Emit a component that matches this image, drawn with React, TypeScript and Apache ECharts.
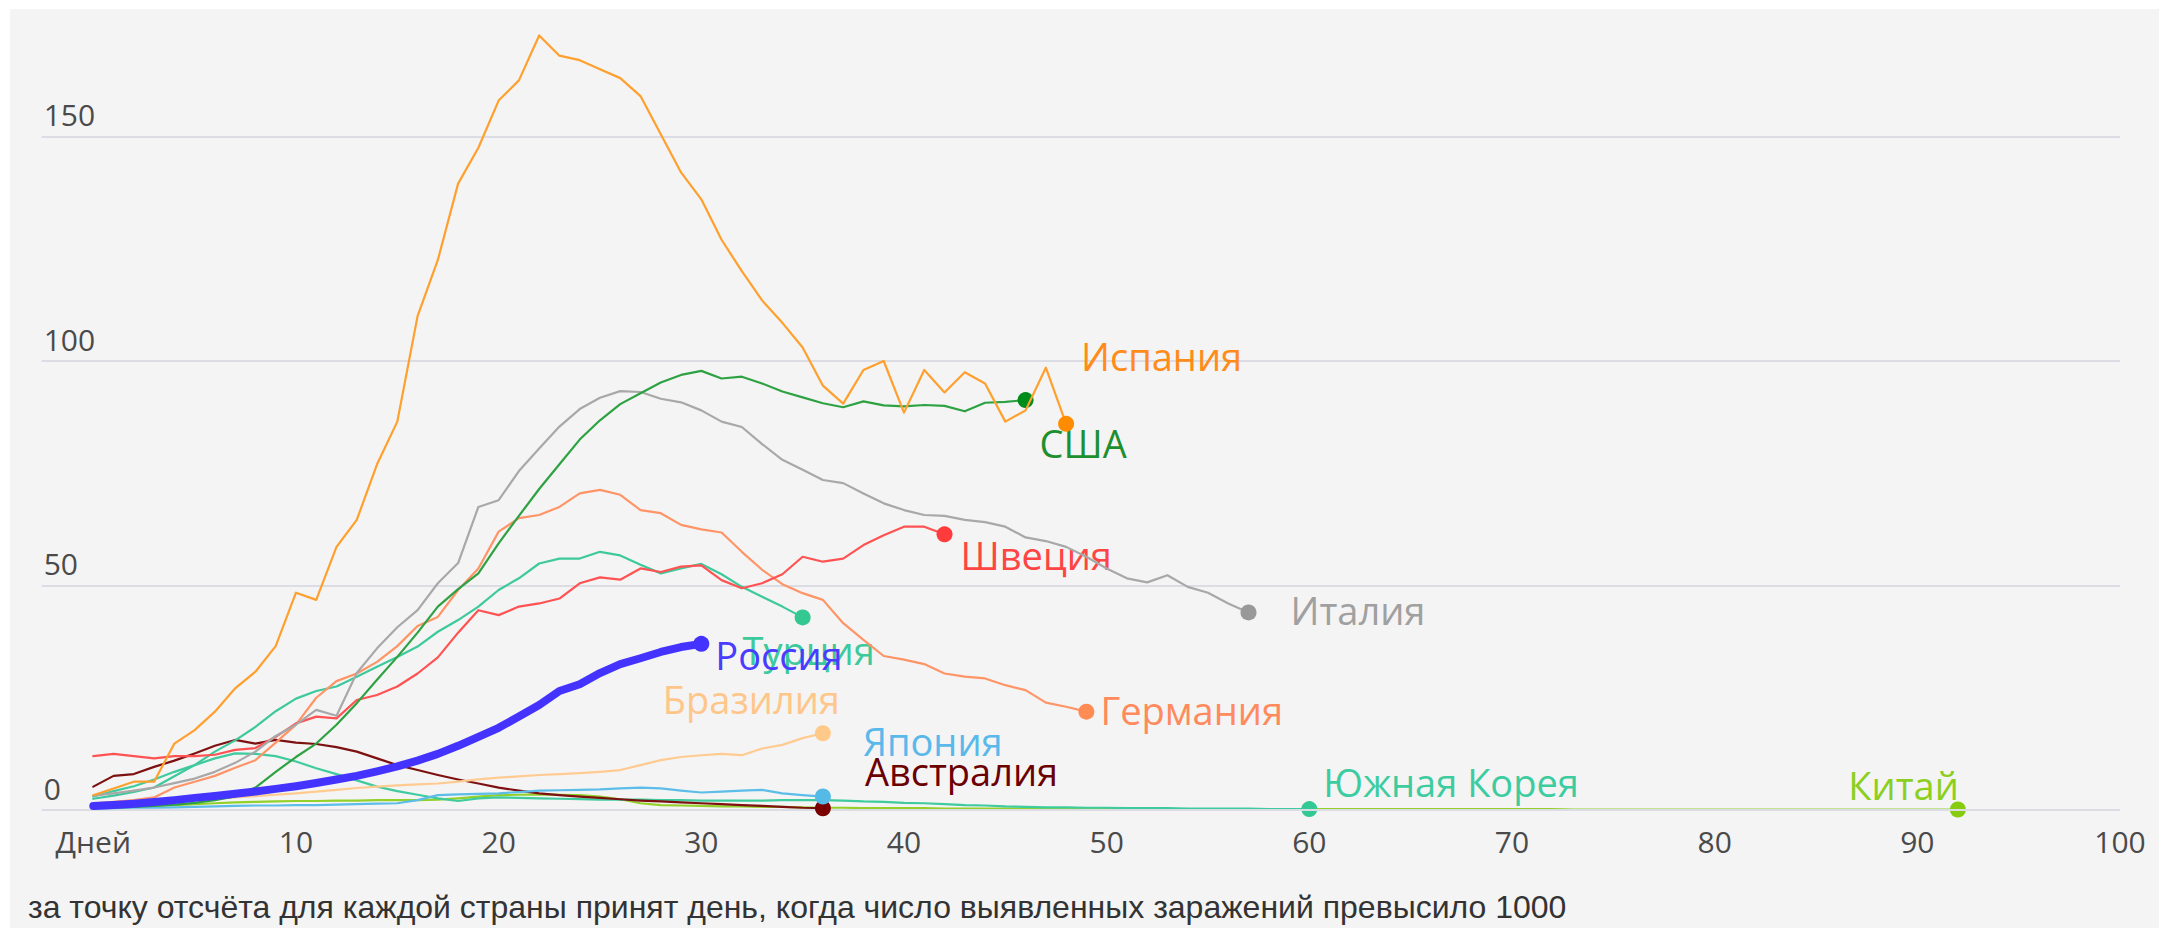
import React, { useEffect, useRef } from "react";
import * as echarts from "echarts";

// ---- tick labels ----
const X_TICKS = [0, 10, 20, 30, 40, 50, 60, 70, 80, 90, 100];
const X_ZERO_LABEL = "Дней";
const Y_TICKS = [0, 50, 100, 150];
const CAPTION =
  "за точку отсчёта для каждой страны принят день, когда число выявленных заражений превысило 1000";

// ---- series values (index = day) ----
const spain = [3.3, 4.8, 6.3, 6.3, 14.8, 17.8, 21.9, 27.1, 30.8, 36.5, 48.4, 46.8, 58.6, 64.6, 77, 86.5, 110, 122.5, 139.5, 147.5, 158, 162.5, 172.5, 168, 167, 165, 163, 159, 150.5, 142, 136, 127, 120, 113.5, 108.5, 103, 94.5, 90.5, 98, 100, 88.5, 98, 93, 97.5, 95, 86.5, 89, 98.5, 86];
const usa = [0.4, 0.5, 0.7, 0.9, 1.2, 1.6, 2.2, 3, 5, 8.5, 11.8, 14.8, 19, 23.8, 29, 34.1, 39.5, 45.3, 49.2, 52.7, 59.4, 65.5, 71.5, 77, 82.5, 86.8, 90.4, 92.8, 95.2, 96.9, 97.8, 96.1, 96.5, 95, 93.2, 91.9, 90.6, 89.7, 91, 90.1, 89.9, 90.2, 90, 88.8, 90.7, 90.9, 91.3];
const italy = [3.2, 3.7, 4.3, 5, 6, 7, 8.5, 10.5, 13, 16.5, 19, 22.3, 21, 30.5, 36, 40.7, 44.5, 50.5, 55, 67.5, 69, 75.5, 80.5, 85.4, 89.3, 91.8, 93.3, 93.1, 91.6, 90.8, 89, 86.5, 85.3, 81.5, 78, 75.8, 73.5, 72.8, 70.5, 68.3, 66.8, 65.7, 65.5, 64.6, 64.1, 63.1, 60.7, 59.9, 58.6, 56.4, 53.8, 51.6, 50.7, 52.3, 49.7, 48.4, 46, 44];
const sweden = [12, 12.5, 12, 11.5, 12, 12, 12.3, 13.4, 13.8, 16.3, 19.3, 20.8, 20.4, 24.5, 25.6, 27.5, 30.4, 34, 39.5, 44.5, 43.4, 45.3, 46, 47.1, 50.5, 51.8, 51.3, 53.8, 53, 54.2, 54.5, 51.2, 49.4, 50.5, 52.5, 56.4, 55.3, 56, 59, 61.2, 63.1, 63.1, 61.4];
const germany = [1.5, 1.8, 2.2, 2.8, 5, 6.3, 7.6, 9.4, 11.1, 15, 19, 25, 28.7, 30.4, 33, 36.5, 41, 43, 49, 53.8, 62, 65, 65.7, 67.5, 70.5, 71.3, 70.2, 66.8, 66.1, 63.5, 62.5, 61.8, 57.5, 53.5, 50.3, 48.3, 46.8, 41.6, 37.9, 34.3, 33.5, 32.5, 30.4, 29.7, 29.3, 27.8, 26.7, 23.9, 23, 21.9];
const turkey = [2.5, 3.2, 4, 5, 7.5, 10, 13, 15.5, 18.5, 22, 24.8, 26.5, 27.5, 29.7, 31.9, 34.1, 36.4, 39.7, 42.3, 45.3, 49, 51.6, 54.9, 56, 56, 57.5, 56.7, 54.6, 52.7, 53.8, 54.8, 52.5, 49.7, 47.5, 45.3, 42.9];
const russia = [0.9, 1.1, 1.4, 1.8, 2.2, 2.7, 3.1, 3.6, 4.1, 4.7, 5.3, 6, 6.8, 7.6, 8.6, 9.7, 11, 12.5, 14.3, 16.3, 18.3, 20.8, 23.4, 26.5, 28, 30.5, 32.5, 33.8, 35.2, 36.3, 37];
const brazil = [1, 1.2, 1.5, 1.7, 2, 2.2, 2.5, 2.8, 3.1, 3.4, 3.7, 4.1, 4.5, 4.9, 5.2, 5.5, 5.7, 5.9, 6.3, 6.8, 7.2, 7.5, 7.8, 8, 8.2, 8.5, 8.9, 10, 11.1, 11.8, 12.2, 12.5, 12.2, 13.7, 14.5, 16, 17.1];
const japan = [0.3, 0.4, 0.5, 0.5, 0.6, 0.7, 0.8, 0.9, 1, 1, 1.1, 1.1, 1.2, 1.3, 1.4, 1.5, 2.2, 3.3, 3.5, 3.6, 3.7, 4, 4.3, 4.4, 4.5, 4.6, 4.8, 5, 4.8, 4.3, 3.9, 4.1, 4.3, 4.5, 3.7, 3.3, 3];
const australia = [5.2, 7.6, 8, 9.6, 11, 12.6, 14.3, 15.6, 14.8, 15.6, 15, 14.7, 14, 13, 11.5, 10, 8.9, 7.8, 6.8, 5.9, 5, 4.3, 3.7, 3.3, 3, 2.7, 2.4, 2.1, 1.9, 1.7, 1.5, 1.3, 1.1, 0.9, 0.7, 0.5, 0.4];
const southKorea = [3, 4.2, 5.3, 6.8, 8.5, 10, 11.5, 12.6, 12.5, 12, 10.8, 9.3, 8, 6.6, 5.2, 4.2, 3.4, 2.6, 2, 2.6, 2.8, 2.7, 2.6, 2.5, 2.4, 2.3, 2.3, 2.3, 2.2, 2.2, 2.1, 2.1, 2.1, 2.1, 2.2, 2.2, 2.2, 2.1, 1.9, 1.8, 1.6, 1.5, 1.3, 1.1, 1, 0.8, 0.7, 0.6, 0.6, 0.5, 0.5, 0.4, 0.4, 0.4, 0.3, 0.3, 0.3, 0.3, 0.2, 0.2, 0.2];
const china = [0.3, 0.5, 0.7, 0.9, 1.1, 1.3, 1.5, 1.7, 1.8, 1.9, 2, 2, 2.1, 2.1, 2.2, 2.2, 2.2, 2.3, 2.6, 3, 3.3, 3.4, 3.5, 3.4, 3.3, 3, 2.4, 1.5, 1.1, 1, 0.9, 0.8, 0.8, 0.7, 0.7, 0.6, 0.5, 0.5, 0.4, 0.4, 0.4, 0.4, 0.3, 0.3, 0.3, 0.3, 0.3, 0.3, 0.3, 0.3, 0.3, 0.3, 0.3, 0.2, 0.2, 0.2, 0.2, 0.2, 0.2, 0.2, 0.2, 0.2, 0.2, 0.2, 0.2, 0.2, 0.2, 0.2, 0.2, 0.2, 0.2, 0.2, 0.2, 0.1, 0.1, 0.1, 0.1, 0.1, 0.1, 0.1, 0.1, 0.1, 0.1, 0.1, 0.1, 0.1, 0.1, 0.1, 0.1, 0.1, 0.1, 0.1, 0.1];

// ---- styling (separate from data) ----
type Style = {
  name: string;
  values: number[];
  line: string;
  dot: string;
  text: string;
  width: number;
  align: "left" | "right" | "center";
  dx: number;
  dy: number;
};

const COUNTRIES: Style[] = [
  { name: "Китай", values: china, line: "#93d12a", dot: "#88cc11", text: "#8ccf1f", width: 2.2, align: "right", dx: 1, dy: -25 },
  { name: "Южная Корея", values: southKorea, line: "#3fcb9e", dot: "#33c994", text: "#3ccca0", width: 2.2, align: "left", dx: 14, dy: -27 },
  { name: "Австралия", values: australia, line: "#7d1010", dot: "#7a0000", text: "#6b0000", width: 2.2, align: "left", dx: 42, dy: -37 },
  { name: "Япония", values: japan, line: "#5cbde9", dot: "#55bbe6", text: "#5ab9ea", width: 2.2, align: "left", dx: 40, dy: -56 },
  { name: "Бразилия", values: brazil, line: "#ffcb90", dot: "#ffc98a", text: "#ffc68a", width: 2.2, align: "right", dx: 17, dy: -34 },
  { name: "Турция", values: turkey, line: "#3ec99c", dot: "#33c792", text: "#3cc99b", width: 2.2, align: "center", dx: 6, dy: 33 },
  { name: "Германия", values: germany, line: "#ff9466", dot: "#ff8c55", text: "#ff8a5c", width: 2.2, align: "left", dx: 14, dy: -2 },
  { name: "Швеция", values: sweden, line: "#ff5252", dot: "#ff3b3b", text: "#ff4444", width: 2.2, align: "left", dx: 16, dy: 21 },
  { name: "Италия", values: italy, line: "#a8a8a8", dot: "#999999", text: "#a0a0a0", width: 2.2, align: "left", dx: 42, dy: -2 },
  { name: "США", values: usa, line: "#2ea243", dot: "#008c1a", text: "#1e8f2e", width: 2.2, align: "left", dx: 14, dy: 43 },
  { name: "Испания", values: spain, line: "#ffa02e", dot: "#ff8c00", text: "#ff8c1a", width: 2.2, align: "left", dx: 15, dy: -68 },
  { name: "Россия", values: russia, line: "#4433ff", dot: "#4433ff", text: "#4a3cff", width: 8, align: "left", dx: 14, dy: 11 },
];

const LABEL_FONT = "Open Sans";

export default function App() {
  const ref = useRef<HTMLDivElement>(null);

  useEffect(() => {
    document.body.style.margin = "0";
    if (!ref.current) return;
    const chart = echarts.init(ref.current, undefined, { renderer: "svg" });

    const series: any[] = COUNTRIES.map((c, si) => ({
      type: "line",
      name: c.name,
      z: 3 + si,
      symbol: "none",
      showSymbol: true,
      silent: true,
      clip: false,
      lineStyle: { color: c.line, width: c.width, cap: "round", join: "round" },
      itemStyle: { color: c.line },
      emphasis: { disabled: true },
      data: c.values.map((v, i) =>
        i === c.values.length - 1
          ? {
              value: [i, v],
              symbol: "circle",
              symbolSize: 16,
              itemStyle: { color: c.dot },
              label: {
                show: true,
                formatter: c.name,
                position: "inside",
                align: c.align,
                verticalAlign: "middle",
                offset: [c.dx, c.dy],
                color: c.text,
                fontSize: 38,
                fontFamily: LABEL_FONT,
              },
            }
          : [i, v]
      ),
    }));

    // gridlines
    series.unshift({
      type: "line",
      name: "grid",
      z: 1,
      silent: true,
      data: [],
      markLine: {
        silent: true,
        symbol: ["none", "none"],
        label: { show: false },
        lineStyle: { color: "#dcdce5", width: 2, type: "solid" },
        emphasis: { disabled: true },
        data: Y_TICKS.map((v) => ({ yAxis: v })),
      },
    });

    chart.setOption({
      animation: false,
      backgroundColor: "#ffffff",
      grid: {
        left: 41.7,
        right: 39,
        top: 24.25,
        bottom: 118,
        containLabel: false,
        outerBoundsMode: "none",
      },
      xAxis: {
        type: "value",
        min: -2.546,
        max: 100,
        axisLine: { show: false },
        axisTick: { show: false },
        splitLine: { show: false },
        axisLabel: {
          customValues: X_TICKS,
          formatter: (v: number) => (v === 0 ? X_ZERO_LABEL : String(v)),
          margin: 16,
          fontSize: 30,
          color: "#4a4a4a",
          fontFamily: LABEL_FONT,
          showMinLabel: true,
          showMaxLabel: true,
        },
      },
      yAxis: {
        type: "value",
        min: 0,
        max: 175,
        interval: 50,
        axisLine: { show: false },
        axisTick: { show: false },
        splitLine: { show: false },
        axisLabel: {
          inside: true,
          margin: 2,
          formatter: (v: number) => (Y_TICKS.includes(v) ? String(v) : ""),
          verticalAlign: "bottom",
          padding: [0, 0, 7, 0],
          fontSize: 30,
          color: "#4a4a4a",
          fontFamily: LABEL_FONT,
        },
      },
      graphic: [
        {
          type: "rect",
          silent: true,
          z: -10,
          shape: { x: 10, y: 9, width: 2149, height: 919 },
          style: { fill: "#f4f4f4" },
        },
        {
          type: "text",
          silent: true,
          z: 10,
          x: 28,
          y: 907,
          style: {
            text: CAPTION,
            fill: "#333333",
            font: '32px "Liberation Sans", Arial, sans-serif',
            verticalAlign: "middle",
            align: "left",
          },
        },
      ],
      series,
    });

    return () => chart.dispose();
  }, []);

  return <div ref={ref} style={{ width: 2159, height: 928 }} />;
}
